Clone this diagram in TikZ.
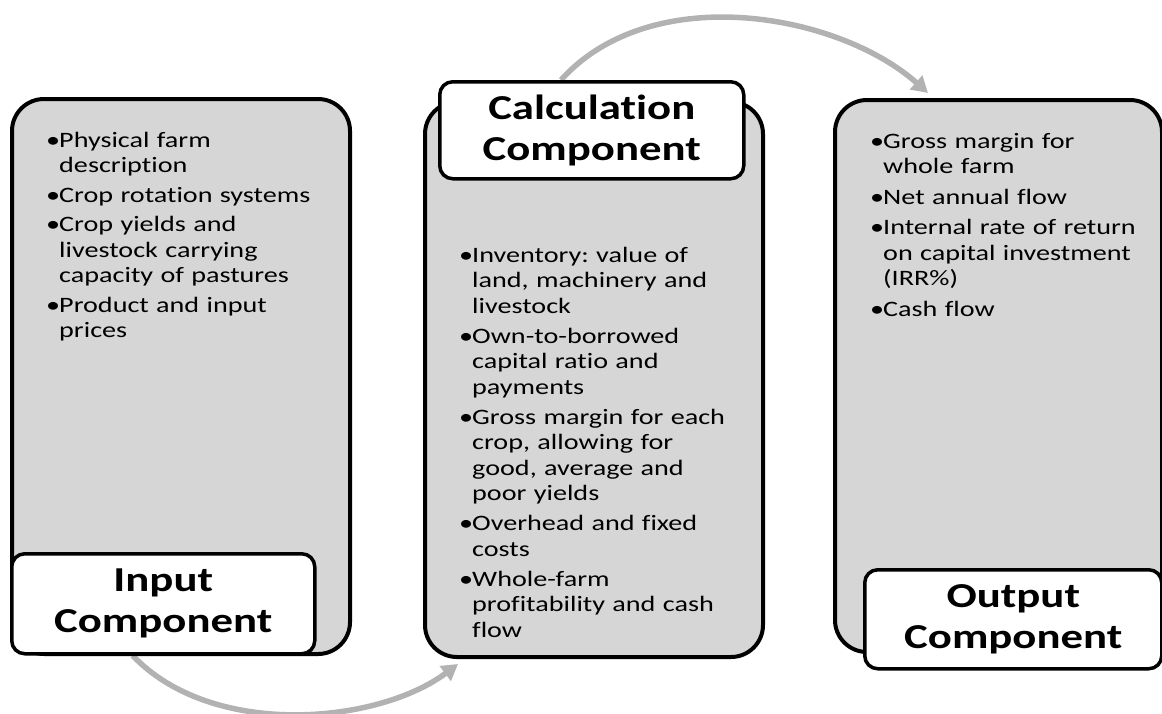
\documentclass[tikz,border=0pt]{standalone}
\usepackage{fontspec}
\setmainfont{Carlito}[FakeStretch=1.28,Ligatures=NoCommon]
\usetikzlibrary{arrows.meta,calc,backgrounds}
\definecolor{boxgray}{RGB}{214,214,214}
\definecolor{arrowgray}{RGB}{178,178,178}
\newcommand\fbul{\noindent\makebox[13pt][l]{•}}
\newcommand\bul{\par\noindent\makebox[13pt][l]{•}}
\newcommand\cnt{\newline\hspace*{13pt}}
\tikzset{
  bigbox/.style={draw=black, line width=4pt, fill=boxgray, rounded corners=32pt, inner sep=0pt, anchor=north west},
  labbox/.style={draw=black, line width=3.5pt, fill=white, rounded corners=13pt, inner sep=0pt, anchor=north west, align=center, font=\fontsize{35}{41}\selectfont\bfseries},
  bodytext/.style={anchor=north west, inner sep=0pt, text width=320pt, align=left, font=\fontsize{22}{25.5}\selectfont\frenchspacing},
  flowarrow/.style={draw=arrowgray, line width=5.5pt, -{Triangle[length=16pt,width=18pt]}}
}
\begin{document}
\begin{tikzpicture}[x=1pt,y=-1pt]
\useasboundingbox (0,0) rectangle (1162,713);
% big boxes
\node[bigbox, minimum width=338pt, minimum height=555pt] (inbox) at (10,97) {};
\node[bigbox, minimum width=338pt, minimum height=555pt] (calcbox) at (423,100) {};
\node[bigbox, minimum width=327pt, minimum height=552pt] (outbox) at (833,98) {};
% body texts
\node[bodytext] (intext) at (46,129.15) {\setlength\parskip{4pt}%
\fbul\strut Physical farm\cnt description
\bul Crop rotation systems
\bul Crop yields and\cnt livestock carrying\cnt capacity of pastures
\bul Product and input\cnt prices\par};
\node[bodytext] (calctext) at (459,244.15) {\setlength\parskip{4.5pt}%
\fbul\strut Inventory: value of\cnt land, machinery and\cnt livestock
\bul Own-to-borrowed\cnt capital ratio and\cnt payments
\bul Gross margin for each\cnt crop, allowing for\cnt good, average and\cnt poor yields
\bul Overhead and fixed\cnt costs
\bul Whole-farm\cnt profitability and cash\cnt flow\par};
\node[bodytext] (outtext) at (870,130.15) {\setlength\parskip{5pt}%
\fbul\strut Gross margin for\cnt whole farm
\bul Net annual flow
\bul Internal rate of return\cnt on capital investment\cnt (IRR\%)
\bul Cash flow\par};
% label boxes
\node[labbox, minimum width=303pt, minimum height=100pt] (inlab) at (10,552) {Input\\Component};
\node[labbox, minimum width=304pt, minimum height=97pt] (calclab) at (438,80) {Calculation\\Component};
\node[labbox, minimum width=297pt, minimum height=99pt] (outlab) at (863,568) {Output\\Component};
% arrows
\begin{scope}[on background layer]
\draw[flowarrow] ($(inlab.south west)!0.4!(inlab.south east)$)
  .. controls +(80,84) and +(-80,60) .. ($(calcbox.south west)+(35,5)$);
\draw[flowarrow] ($(calclab.north west)!0.4!(calclab.north east)$)
  .. controls +(90,-100) and +(-90,-80) .. ($(outbox.north west)+(95,-5)$);
\end{scope}
\end{tikzpicture}
\end{document}
